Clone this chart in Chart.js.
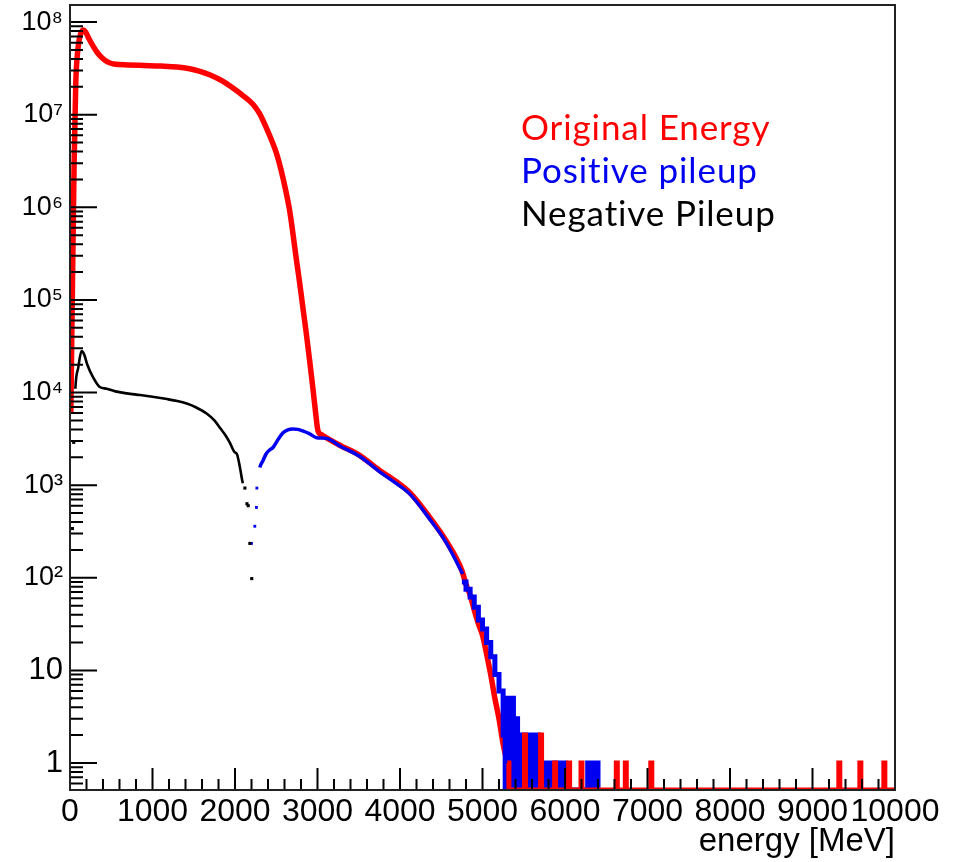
<!DOCTYPE html>
<html>
<head>
<meta charset="utf-8">
<script src="https://cdn.jsdelivr.net/npm/chart.js@4.4.0/dist/chart.umd.min.js"></script>
<style>
html,body{margin:0;padding:0;background:#ffffff;}
#wrap{width:956px;height:862px;position:relative;}
</style>
</head>
<body>
<div id="wrap"><canvas id="c" width="956" height="862" style="width:956px;height:862px;"></canvas></div>
<script>
// ---------------- data ----------------
// x axis: energy [MeV]; y axis: counts (log)
const xTickValues = [0, 1000, 2000, 3000, 4000, 5000, 6000, 7000, 8000, 9000, 10000];
const xTickLabels = ['0', '1000', '2000', '3000', '4000', '5000', '6000', '7000', '8000', '9000', '10000'];
const yTickValues = [1, 10, 1e2, 1e3, 1e4, 1e5, 1e6, 1e7, 1e8];
const yTickLabels = ['1', '10', '10\u00B2', '10\u00B3', '10\u2074', '10\u2075', '10\u2076', '10\u2077', '10\u2078'];

const seriesLabels = ['Original Energy', 'Positive pileup', 'Negative Pileup'];

// Original Energy – smooth part of the spectrum
const redMainE = [10, 30, 50, 70, 100, 130, 160, 190, 230, 280, 330, 390, 460, 550, 700, 900, 1100, 1300, 1450, 1575, 1700, 1850, 1975, 2100, 2220, 2300, 2380, 2440, 2500, 2560, 2620, 2660, 2700, 2740, 2785, 2825, 2865, 2905, 2945, 2975, 3005, 3050, 3110, 3270, 3510, 3750, 3950, 4120, 4360, 4560, 4750, 4800, 4850, 4900, 4950, 5000, 5050, 5100, 5150, 5200, 5250, 5300];
const redMainN = [6000, 1.5e5, 3e6, 2.2e7, 5.5e7, 7.5e7, 8.2e7, 7.8e7, 6.6e7, 5.5e7, 4.7e7, 4.1e7, 3.7e7, 3.5e7, 3.45e7, 3.4e7, 3.35e7, 3.27e7, 3.13e7, 2.94e7, 2.68e7, 2.3e7, 1.94e7, 1.6e7, 1.29e7, 1.02e7, 7.2e6, 5.4e6, 3.9e6, 2.5e6, 1.45e6, 9.5e5, 5.4e5, 2.9e5, 1.5e5, 8e4, 4.3e4, 2.2e4, 1.1e4, 6300, 3900, 3500, 3250, 2700, 2100, 1450, 1100, 830, 450, 250, 120, 85, 65, 45, 32, 24, 15, 9, 5, 3, 1.6, 1];
// Original Energy – sparse tail (bin left edges, counts)
const redTailE = [5300, 5320, 5509, 5521, 5704, 5716, 5874, 5886, 6044, 6056, 6194, 6206, 6622, 6634, 6731, 6743, 7040, 7052, 9319, 9331, 9574, 9586, 9865, 9877, 10000];
const redTailN = [1, 0, 2, 0, 2, 0, 1, 0, 1, 0, 1, 0, 1, 0, 1, 0, 1, 0, 1, 0, 1, 0, 1, 0, 0];

// Positive pileup – main part
const blueMainE = [2200, 2240, 2260, 2265, 2300, 2340, 2380, 2420, 2460, 2520, 2580, 2640, 2700, 2760, 2820, 2900, 2990, 3110, 3270, 3510, 3750, 3950, 4120, 4360, 4560, 4760];
const blueMainN = [235, 360, 575, 930, 1550, 1850, 2200, 2400, 2550, 3100, 3650, 3950, 4050, 4000, 3850, 3600, 3250, 3200, 2650, 2050, 1400, 1050, 800, 430, 240, 110];
// Positive pileup – tail (bin left edges, counts)
const blueTailE = [4750, 4800, 4850, 4900, 4950, 5000, 5050, 5100, 5150, 5200, 5250, 5275, 5300, 5325, 5350, 5375, 5400, 5425, 5450, 5475, 5500, 5525, 5550, 5575, 5600, 5625, 5650, 5675, 5700, 5725, 5750, 5775, 5800, 5825, 5850, 5875, 5900, 5925, 5975, 6000, 6025, 6275, 6300, 6325, 6350, 6375, 6400, 6425];
const blueTailN = [90, 75, 62, 48, 35, 28, 20, 14, 9, 6, 2, 0, 5, 0, 5, 0, 3, 0, 2, 0, 2, 0, 2, 0, 2, 0, 2, 0, 1, 0, 1, 0, 1, 0, 1, 0, 1, 0, 1, 0, 0, 1, 0, 1, 0, 1, 0, 0];

// Negative Pileup
const blackE = [10, 30, 45, 65, 100, 140, 170, 210, 282, 360, 445, 550, 690, 850, 1000, 1175, 1300, 1415, 1530, 1660, 1750, 1815, 1880, 1935, 1990, 2025, 2060, 2095, 2120, 2145, 2160, 2180, 2203];
const blackN = [5, 340, 2900, 11000, 18600, 28000, 26000, 20000, 14500, 11500, 11000, 10300, 9800, 9400, 9000, 8500, 8100, 7600, 6900, 5900, 5000, 4200, 3500, 2900, 2300, 2150, 1550, 1050, 930, 630, 600, 235, 98];

// ---------------- chart ----------------
const Y_MIN = 0.511, Y_MAX = 1.53e8;
const X_MIN = 0, X_MAX = 10000;
const FONT = "'Liberation Sans', Arial, Helvetica, sans-serif";
const RED = '#ff0000', BLUE = '#0000f0', BLACK = '#000000';

const toPts = (E, N) => E.map((e, i) => ({ x: e, y: N[i] > 0 ? N[i] : Y_MIN }));
const HIDE = 'rgba(0,0,0,0)';

const frameTicks = {
  id: 'frameTicks',
  afterDatasetsDraw(chart) {
    const { ctx, chartArea: a, scales: { x, y } } = chart;
    ctx.save();
    ctx.strokeStyle = '#000';
    ctx.lineWidth = 2;
    ctx.beginPath();
    for (let k = -1; k <= 8; k++) {
      for (let m = 1; m <= 9; m++) {
        const v = m * Math.pow(10, k);
        if (v < y.min || v > y.max) continue;
        const py = y.getPixelForValue(v);
        const len = m === 1 ? 27 : 13;
        ctx.moveTo(a.left, py);
        ctx.lineTo(a.left + len, py);
      }
    }
    for (let v = X_MIN; v <= X_MAX; v += 200) {
      const px = x.getPixelForValue(v);
      const len = v % 1000 === 0 ? 22 : 11;
      ctx.moveTo(px, a.bottom);
      ctx.lineTo(px, a.bottom - len);
    }
    ctx.stroke();
    ctx.strokeStyle = '#222';
    ctx.lineWidth = 2;
    ctx.strokeRect(a.left, a.top, a.right - a.left, a.bottom - a.top);
    ctx.restore();
  }
};

const textLegend = {
  id: 'textLegend',
  afterDraw(chart) {
    const { ctx } = chart;
    const cols = [RED, BLUE, BLACK];
    ctx.save();
    ctx.font = "35px Lato, 'Open Sans', sans-serif";
    if ('letterSpacing' in ctx) ctx.letterSpacing = '0.9px';
    ctx.textBaseline = 'alphabetic';
    ctx.textAlign = 'left';
    seriesLabels.forEach((t, i) => {
      ctx.fillStyle = cols[i];
      ctx.fillText(t, 521, 140 + i * 43);
    });
    ctx.restore();
  }
};

new Chart(document.getElementById('c'), {
  type: 'line',
  data: {
    datasets: [
      {
        label: seriesLabels[0], data: toPts(redMainE, redMainN),
        borderColor: RED, borderWidth: 5.5, pointRadius: 0, cubicInterpolationMode: 'monotone',
        borderJoinStyle: 'round', clip: 0, order: 5
      },
      {
        label: seriesLabels[1], data: toPts(blueMainE, blueMainN),
        borderColor: BLUE, borderWidth: 3.5, cubicInterpolationMode: 'monotone', clip: 0, order: 4,
        pointStyle: 'rect', backgroundColor: BLUE, pointBorderWidth: 0,
        pointRadius: c => (c.raw && c.raw.x < 2290 ? 2 : 0),
        segment: { borderColor: c => (c.p0.parsed.x < 2290 ? HIDE : undefined) }
      },
      {
        label: seriesLabels[1] + ' tail', data: toPts(blueTailE, blueTailN),
        borderColor: BLUE, borderWidth: 5, pointRadius: 0, stepped: 'before',
        borderJoinStyle: 'miter', clip: 0, order: 3
      },
      {
        label: seriesLabels[0] + ' tail', data: toPts(redTailE, redTailN),
        borderColor: RED, borderWidth: 5, pointRadius: 0, stepped: 'before',
        borderJoinStyle: 'miter', clip: 0, order: 2
      },
      {
        label: seriesLabels[2], data: toPts(blackE, blackN),
        borderColor: BLACK, borderWidth: 2.6, cubicInterpolationMode: 'monotone', clip: 0, order: 1,
        pointStyle: 'rect', backgroundColor: BLACK, pointBorderWidth: 0,
        pointRadius: c => (c.raw && (c.raw.x < 50 || c.raw.x > 2110) ? 2.2 : 0),
        segment: { borderColor: c => ((c.p0.parsed.x < 50 || c.p1.parsed.x > 2110) ? HIDE : undefined) }
      }
    ]
  },
  options: {
    responsive: false,
    animation: false,
    events: [],
    layout: { padding: { top: 5, right: 61, left: 0, bottom: 0 } },
    plugins: { legend: { display: false }, tooltip: { enabled: false } },
    scales: {
      x: {
        type: 'linear', min: X_MIN, max: X_MAX,
        grid: { display: false, drawTicks: false },
        border: { display: false },
        afterBuildTicks: s => { s.ticks = xTickValues.map(v => ({ value: v })); },
        afterFit: s => { s.height = 72; s.paddingLeft = 0; s.paddingRight = 0; s.paddingTop = 0; s.paddingBottom = 0; },
        ticks: {
          autoSkip: false, maxRotation: 0, minRotation: 0, padding: 3, color: '#000',
          font: { family: FONT, size: 32 },
          callback: (v) => xTickLabels[xTickValues.indexOf(v)]
        },
        title: {
          display: true, text: 'energy [MeV]', align: 'end', color: '#000',
          font: { family: FONT, size: 33 }, padding: { top: 0, bottom: 0 }
        }
      },
      y: {
        type: 'logarithmic', min: Y_MIN, max: Y_MAX,
        grid: { display: false, drawTicks: false },
        border: { display: false },
        afterBuildTicks: s => { s.ticks = yTickValues.map(v => ({ value: v })); },
        afterFit: s => { s.width = 70; s.paddingLeft = 0; s.paddingRight = 0; s.paddingTop = 0; s.paddingBottom = 0; },
        ticks: {
          autoSkip: false, padding: 7, color: '#000',
          font: c => ({ family: FONT, size: (c.tick && c.tick.value >= 100) ? 27 : 31 }),
          callback: (v) => yTickLabels[yTickValues.indexOf(v)]
        }
      }
    }
  },
  plugins: [frameTicks, textLegend]
});
</script>
</body>
</html>
